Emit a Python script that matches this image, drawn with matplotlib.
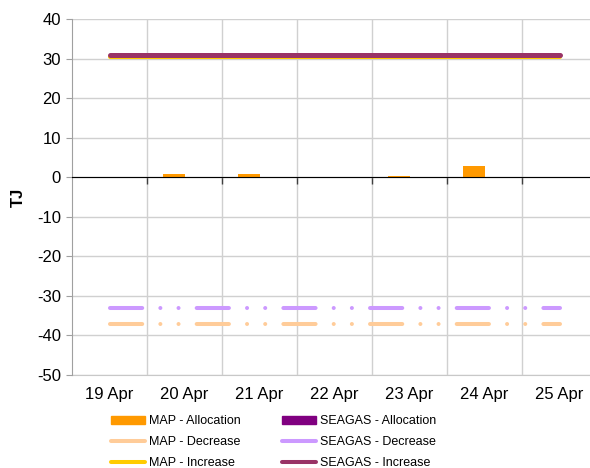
import numpy as np
import matplotlib
matplotlib.use("Agg")
import matplotlib.pyplot as plt
from matplotlib.patches import Patch
from matplotlib.lines import Line2D

plt.rcParams['font.family'] = ['Liberation Sans', 'DejaVu Sans']
plt.rcParams['axes.unicode_minus'] = False

# data
days = ['19 Apr', '20 Apr', '21 Apr', '22 Apr', '23 Apr', '24 Apr', '25 Apr']
map_alloc = [0, 0.8, 0.9, 0, 0.3, 2.8, 0]
seagas_alloc = [0, 0, 0, 0, 0, 0, 0]
map_decrease = [-37, -37, -37, -37, -37, -37, -37]
seagas_decrease = [-33, -33, -33, -33, -33, -33, -33]
map_increase = [30.4, 30.4, 30.4, 30.4, 30.4, 30.4, 30.4]
seagas_increase = [30.9, 30.9, 30.9, 30.9, 30.9, 30.9, 30.9]

c_map_alloc = '#FF9900'
c_sea_alloc = '#800080'
c_map_dec = '#FFCC99'
c_sea_dec = '#CC99FF'
c_map_inc = '#FFCC00'
c_sea_inc = '#993366'

fig = plt.figure(figsize=(5.9, 4.68), dpi=100)
# the plot area runs a little past the right edge of the image, like the original
ax = fig.add_axes([72 / 590, 1 - 375 / 468, 525 / 590, 356 / 468])

x = np.arange(len(days))
bw = 0.29
ax.bar(x - bw / 2, map_alloc, bw, color=c_map_alloc, zorder=3)
ax.bar(x + bw / 2, seagas_alloc, bw, color=c_sea_alloc, zorder=3)

dd = (0, (8, 4.5, 0.01, 4.5, 0.01, 4.5))
ax.plot(x, map_decrease, color=c_map_dec, lw=2.9, linestyle=dd,
        dash_capstyle='round', zorder=4)
ax.plot(x, seagas_decrease, color=c_sea_dec, lw=2.9, linestyle=dd,
        dash_capstyle='round', zorder=4)
ax.plot(x, map_increase, color=c_map_inc, lw=2.9, solid_capstyle='round', zorder=4)
ax.plot(x, seagas_increase, color=c_sea_inc, lw=3.6, solid_capstyle='round', zorder=5)

ax.set_xlim(-0.5, 6.5)
ax.set_ylim(-50, 40)
ax.set_yticks(np.arange(-50, 41, 10))
ax.tick_params(axis='y', labelsize=12, length=4, color='#A0A0A0', pad=4)

# category boundaries: ticks on the zero axis + vertical gridlines
ax.set_xticks(np.arange(0.5, 6.5, 1))
ax.set_xticklabels([])
ax.tick_params(axis='x', length=5, width=1, color='#404040', direction='out')
ax.spines['bottom'].set_position(('data', 0))
ax.spines['bottom'].set_color('black')
ax.spines['bottom'].set_zorder(6)
ax.spines['top'].set_visible(False)
ax.spines['right'].set_visible(False)
ax.spines['left'].set_color('#A0A0A0')
ax.grid(True, color='#D0D0D0', lw=1, zorder=0)
ax.set_axisbelow(True)

sec = ax.secondary_xaxis(0)
sec.set_xticks(x)
sec.set_xticklabels(days)
sec.tick_params(length=0, labelsize=12, pad=9)
sec.spines['bottom'].set_color('#C8C8C8')

ax.set_ylabel('TJ', fontsize=12, fontweight='bold')
ax.yaxis.set_label_coords(-0.087, 0.5)

handles = [
    Patch(color=c_map_alloc),
    Line2D([], [], color=c_map_dec, lw=2.9, solid_capstyle='round'),
    Line2D([], [], color=c_map_inc, lw=2.9, solid_capstyle='round'),
    Patch(color=c_sea_alloc),
    Line2D([], [], color=c_sea_dec, lw=2.9, solid_capstyle='round'),
    Line2D([], [], color=c_sea_inc, lw=2.9, solid_capstyle='round'),
]
labels = ['MAP - Allocation', 'MAP - Decrease', 'MAP - Increase',
          'SEAGAS - Allocation', 'SEAGAS - Decrease', 'SEAGAS - Increase']
fig.legend(handles, labels, ncol=2, frameon=False, fontsize=9,
           loc='upper left', bbox_to_anchor=(111 / 590, 1 - 415 / 468),
           borderpad=0, borderaxespad=0, handlelength=2.7, handleheight=0.6,
           handletextpad=0.32, columnspacing=3.3, labelspacing=0.74)

fig.savefig('out.png', dpi=100)
